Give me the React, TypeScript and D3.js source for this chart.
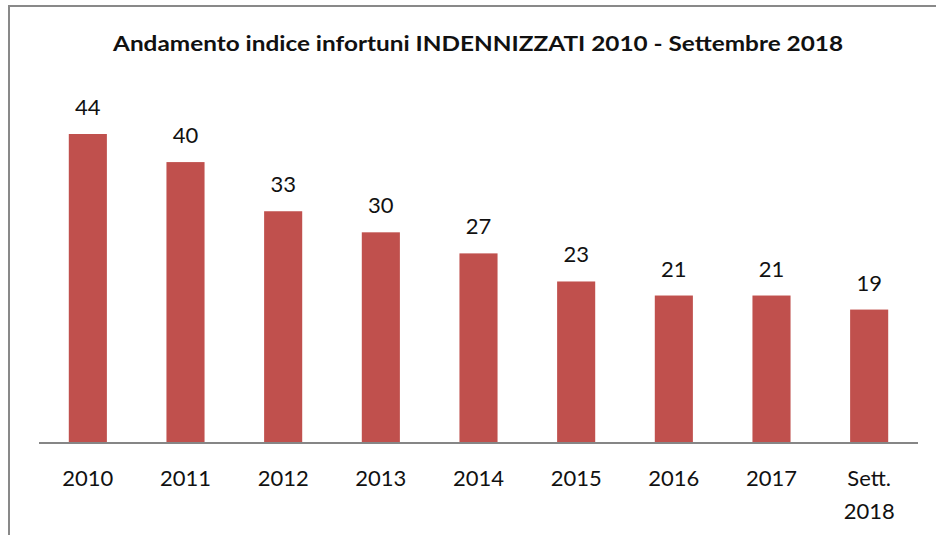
import React from "react";
import * as d3 from "d3";

const categories = ["2010", "2011", "2012", "2013", "2014", "2015", "2016", "2017", "Sett.\n2018"];
const values = [44, 40, 33, 30, 27, 23, 21, 21, 19];
const title = "Andamento indice infortuni  INDENNIZZATI 2010 - Settembre 2018";

const width = 936;
const height = 535;
const margin = { left: 39, right: 18, top: 134, bottom: 92 };
const font = "Lato, 'Open Sans', sans-serif";

const App = () => {
  const x = d3
    .scaleBand()
    .domain(categories)
    .range([margin.left, width - margin.right])
    .paddingInner(0.61)
    .paddingOuter(0.305);

  const baseY = height - margin.bottom;
  const y = d3.scaleLinear().domain([0, 44]).range([baseY, margin.top]);

  return (
    <svg
      width={width}
      height={height}
      style={{ position: "absolute", left: 0, top: 0, background: "#fff" }}
    >
      <rect x={9} y={6} width={1000} height={1000} fill="none" stroke="#898989" strokeWidth={2} />
      <text
        x={478}
        y={51}
        textAnchor="middle"
        fontFamily={font}
        fontWeight="bold"
        fontSize={20}
        fill="#111"
        textLength={730}
        lengthAdjust="spacingAndGlyphs"
      >
        {title}
      </text>
      {categories.map((c, i) => (
        <rect
          key={c}
          x={x(c)}
          y={y(values[i])}
          width={x.bandwidth()}
          height={baseY - y(values[i])}
          fill="#C0504D"
        />
      ))}
      {categories.map((c, i) => (
        <text
          key={"v" + c}
          x={(x(c) ?? 0) + x.bandwidth() / 2}
          y={y(values[i]) - 19}
          textAnchor="middle"
          fontFamily={font}
          fontSize={22}
          fill="#111"
        >
          {values[i]}
        </text>
      ))}
      <line x1={margin.left} x2={width - margin.right} y1={baseY} y2={baseY} stroke="#868686" strokeWidth={2} />
      {categories.map((c) => (
        <text
          key={"t" + c}
          x={(x(c) ?? 0) + x.bandwidth() / 2}
          y={486}
          textAnchor="middle"
          fontFamily={font}
          fontSize={22}
          fill="#111"
        >
          {c.split("\n").map((line, j) => (
            <tspan key={j} x={(x(c) ?? 0) + x.bandwidth() / 2} dy={j === 0 ? 0 : 33}>
              {line}
            </tspan>
          ))}
        </text>
      ))}
    </svg>
  );
};

export default App;
